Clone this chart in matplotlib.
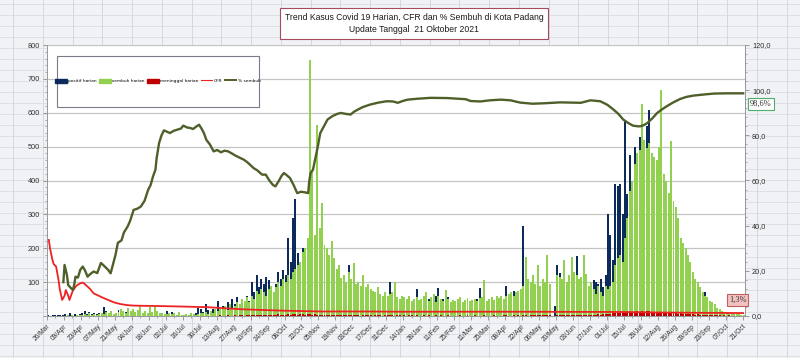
import datetime as dt
import numpy as np
import matplotlib
matplotlib.use("Agg")
import matplotlib.pyplot as plt
from matplotlib.lines import Line2D
from matplotlib.patches import Rectangle, Patch
from matplotlib.ticker import MultipleLocator

# ---------------- data (2-day bins starting 26 Mar 2020) ----------------
start_date = dt.date(2020, 3, 26)
n_days = 575
bin_days = 2

positif_harian = [
    2, 1, 3, 2, 4, 3, 2,
    5, 3, 8, 4, 6, 3, 5,
    10, 16, 7, 12, 5, 8, 6,
    9, 6, 27, 14, 8, 12, 7,
    10, 18, 22, 8, 12, 6, 10,
    5, 8, 4, 6, 3, 5, 4,
    3, 4, 2, 5, 3, 6, 4,
    16, 8, 12, 5, 4, 6, 3,
    4, 6, 3, 8, 5, 10, 25,
    20, 12, 35, 18, 10, 22, 15,
    45, 20, 30, 15, 40, 25, 50,
    35, 55, 30, 48, 40, 60, 45,
    100, 70, 120, 85, 110, 95, 115,
    105, 80, 70, 95, 130, 110, 136,
    120, 230, 160, 290, 345, 186, 150,
    200, 170, 204, 150, 145, 120, 100,
    80, 90, 70, 60, 85, 75, 65,
    70, 60, 55, 65, 80, 150, 50,
    45, 55, 60, 50, 40, 55, 45,
    55, 40, 45, 35, 50, 60, 45,
    50, 100, 45, 40, 55, 35, 45,
    45, 40, 50, 35, 40, 80, 45,
    40, 45, 35, 50, 40, 55, 60,
    83, 45, 50, 53, 55, 40, 45,
    45, 40, 50, 38, 42, 48, 40,
    40, 45, 50, 83, 45, 42, 40,
    45, 50, 40, 55, 48, 42, 50,
    89, 60, 55, 75, 65, 70, 60,
    267, 86, 70, 80, 90, 75, 85,
    80, 70, 90, 75, 80, 0, 30,
    150, 127, 100, 85, 80, 95, 75,
    80, 178, 90, 93, 85, 60, 75,
    90, 105, 100, 95, 110, 85, 120,
    300, 240, 165, 390, 385, 390, 300,
    580, 360, 476, 343, 500, 380, 527,
    615, 500, 560, 607, 470, 450, 430,
    380, 350, 300, 320, 280, 300, 260,
    250, 200, 180, 150, 130, 120, 100,
    80, 70, 60, 50, 45, 70, 40,
    35, 30, 25, 20, 15, 12, 10,
    8, 6, 7, 5, 4, 5, 3,
    3,
]

sembuh_harian = [
    0, 0, 0, 0, 0, 1, 0,
    1, 2, 0, 3, 1, 2, 4,
    3, 5, 2, 8, 4, 6, 3,
    5, 10, 6, 12, 8, 15, 6,
    8, 12, 20, 14, 10, 25, 15,
    20, 12, 18, 30, 10, 15, 8,
    28, 12, 30, 15, 8, 10, 6,
    6, 10, 5, 8, 4, 12, 3,
    4, 6, 3, 8, 5, 4, 6,
    8, 10, 12, 6, 15, 10, 20,
    15, 25, 20, 30, 18, 35, 25,
    30, 40, 35, 50, 45, 55, 40,
    60, 50, 75, 65, 80, 70, 60,
    80, 90, 70, 85, 100, 90, 110,
    100, 120, 110, 130, 140, 150, 160,
    190, 200, 230, 755, 426, 240, 565,
    260, 334, 210, 200, 180, 220, 170,
    140, 150, 112, 120, 100, 130, 110,
    156, 95, 100, 90, 122, 85, 95,
    80, 75, 70, 85, 65, 60, 70,
    60, 65, 70, 100, 55, 50, 60,
    55, 50, 60, 45, 50, 55, 48,
    50, 60, 70, 45, 55, 65, 40,
    60, 50, 45, 77, 50, 40, 48,
    45, 50, 55, 40, 48, 52, 45,
    48, 50, 45, 52, 55, 106, 45,
    50, 55, 48, 60, 52, 58, 50,
    60, 65, 70, 60, 70, 75, 80,
    90, 175, 110, 100, 120, 95, 150,
    90, 110, 100, 180, 95, 0, 0,
    120, 115, 110, 165, 100, 120, 175,
    130, 120, 110, 115, 180, 125, 90,
    100, 80, 65, 90, 70, 60, 90,
    80, 90, 100, 150, 170, 180, 160,
    230, 290, 370, 400, 450, 480, 490,
    625, 520, 497, 510, 480, 470, 460,
    500, 667, 420, 400, 363, 516, 340,
    322, 290, 230, 216, 200, 180, 160,
    130, 110, 100, 85, 70, 60, 55,
    45, 40, 35, 25, 20, 15, 12,
    10, 8, 9, 7, 6, 5, 4,
    3,
]

meninggal_harian = [
    1, 0, 1, 0, 1, 0, 0,
    1, 0, 0, 1, 0, 0, 1,
    0, 1, 0, 0, 1, 0, 0,
    0, 0, 1, 0, 0, 0, 1,
    0, 1, 0, 0, 0, 1, 0,
    0, 0, 0, 1, 0, 0, 0,
    0, 0, 1, 0, 0, 0, 0,
    0, 1, 0, 0, 0, 0, 1,
    0, 0, 0, 1, 0, 0, 0,
    1, 0, 1, 0, 0, 1, 0,
    1, 2, 1, 0, 2, 1, 1,
    2, 1, 2, 3, 1, 2, 2,
    3, 2, 4, 3, 2, 3, 4,
    3, 4, 2, 3, 5, 3, 4,
    4, 5, 3, 6, 5, 4, 5,
    5, 4, 6, 5, 4, 5, 3,
    3, 4, 2, 3, 4, 3, 2,
    3, 2, 3, 4, 2, 3, 2,
    2, 3, 2, 1, 2, 3, 2,
    2, 1, 2, 3, 2, 1, 2,
    2, 3, 2, 1, 2, 2, 1,
    2, 1, 2, 2, 1, 2, 1,
    1, 2, 1, 2, 1, 1, 2,
    1, 2, 1, 1, 2, 1, 1,
    1, 1, 2, 1, 1, 2, 1,
    1, 2, 1, 1, 1, 2, 1,
    1, 1, 2, 1, 1, 1, 2,
    2, 1, 1, 2, 1, 2, 1,
    2, 2, 1, 2, 3, 2, 2,
    2, 3, 2, 2, 3, 0, 1,
    3, 2, 3, 2, 3, 2, 3,
    3, 4, 3, 2, 3, 4, 3,
    4, 3, 4, 5, 4, 5, 6,
    6, 7, 8, 9, 8, 10, 9,
    10, 12, 11, 13, 12, 14, 13,
    14, 13, 15, 14, 12, 13, 12,
    11, 12, 10, 11, 9, 10, 9,
    8, 7, 8, 6, 7, 6, 5,
    5, 4, 5, 4, 3, 4, 3,
    3, 2, 3, 2, 2, 1, 2,
    1, 2, 1, 1, 1, 0, 1,
    1,
]

# CFR (%) - day offset from 26 Mar 2020
cfr_days = [1, 2, 4, 5, 7, 9, 10, 12, 14, 15,
            17, 18, 21, 24, 27, 29, 31, 33, 35, 38,
            42, 46, 50, 55, 60, 66, 71, 80, 93, 110,
            132, 159, 192, 225, 260, 291, 330, 374, 420, 456,
            480, 497, 520, 539, 560, 574]
cfr_pct = [33.7, 30, 24.8, 23, 21.9, 16, 12, 7.1, 9, 11.5,
           9, 7.1, 11.5, 13.5, 14.5, 14.8, 14, 13, 12, 10,
           9, 8, 7.1, 6, 5.3, 4.8, 4.6, 4.5, 4.4, 4.2,
           3.9, 3.0, 2.4, 2.0, 2.0, 1.9, 1.9, 1.9, 1.85, 1.8,
           1.75, 1.6, 1.5, 1.4, 1.35, 1.3]

# % sembuh - day offset from 26 Mar 2020
sembuh_days = [13, 14, 16, 17, 19, 21, 22, 23, 25, 27,
               29, 31, 33, 35, 38, 41, 44, 47, 50, 52,
               54, 56, 58, 61, 63, 66, 68, 71, 74, 77,
               80, 83, 85, 87, 89, 90, 92, 94, 96, 99,
               101, 104, 107, 110, 112, 115, 118, 120, 123, 125,
               127, 129, 131, 134, 137, 140, 143, 146, 149, 152,
               155, 159, 162, 165, 167, 170, 173, 177, 180, 183,
               186, 188, 191, 193, 195, 197, 200, 203, 206, 209,
               212, 215, 216, 217, 219, 221, 223, 225, 228, 231,
               235, 239, 242, 246, 250, 253, 256, 260, 266, 273,
               280, 285, 289, 293, 297, 305, 316, 330, 345, 349,
               357, 365, 374, 382, 390, 400, 410, 423, 432, 440,
               448, 456, 462, 467, 471, 475, 479, 483, 487, 489,
               492, 495, 499, 503, 507, 511, 516, 522, 527, 533,
               540, 550, 560, 574]
sembuh_pct = [15.0, 22.6, 18, 13.7, 12.5, 11.5, 14, 17.4, 17, 20.5,
              21.9, 20, 17.4, 18.5, 19.7, 19, 23.5, 22, 20.4, 18.9,
              23, 27, 32.4, 33.5, 37, 39.6, 42, 47, 47.5, 48.5,
              51, 55.9, 58, 61.8, 64.8, 70, 76.6, 80, 82.2, 81.5,
              81, 82, 82.5, 83, 84.3, 83.5, 83.2, 82.8, 84, 84.7,
              83, 81, 78, 75.9, 72.9, 73.5, 72.5, 73.2, 72.9, 72,
              71, 70, 69.2, 68, 67, 65.5, 64.5, 62.6, 62.6, 60,
              58, 57.4, 60, 62, 63.3, 62.5, 61.1, 58, 54.4, 55,
              54.8, 54.4, 60, 63.3, 64.8, 70, 75.1, 81, 84, 87,
              88.5, 89.5, 89.9, 89.5, 89.2, 90.5, 91.4, 92.5, 93.6, 94.5,
              95.1, 95, 94.4, 95.2, 95.8, 96.2, 96.6, 96.5, 96, 95.2,
              95, 95.5, 95.8, 95.5, 94.5, 94, 94.2, 94.6, 94.5, 94.4,
              95.5, 95.1, 93.5, 91.4, 89.5, 87, 85.5, 84.3, 84, 84,
              84.5, 85.5, 87.5, 89.9, 91.5, 92.9, 94.5, 96.1, 97, 97.6,
              98, 98.5, 98.6, 98.6]

title_text = "Trend Kasus Covid 19 Harian, CFR dan % Sembuh di Kota Padang\nUpdate Tanggal  21 Oktober 2021"
legend_labels = ["positif harian", "sembuh harian", "meninggal harian", "CFR", "% sembuh"]
last_sembuh_label = "98,6%"
last_cfr_label = "1,3%"
tick_step_days = 14

# ---------------- styling ----------------
C_POS = "#0d2a5c"
C_SEMBUH = "#92d050"
C_MATI = "#c00000"
C_CFR = "#ee2222"
C_PCT = "#4f5f2a"

W, H = 800, 358
fig = plt.figure(figsize=(W / 100, H / 100), dpi=100)
fig.patch.set_facecolor("#f1f2f5")

# spreadsheet-like background cells
for k in range(28):
    x = (13 + 29.76 * k) / W
    fig.add_artist(Line2D([x, x], [0, 1], transform=fig.transFigure,
                          color="#cfd3da", lw=0.6, zorder=0))
for k in range(34):
    y = 1 - (4 + 11.0 * k) / H
    fig.add_artist(Line2D([0, 1], [y, y], transform=fig.transFigure,
                          color="#d6d9df", lw=0.5, zorder=0))

ax = fig.add_axes([47 / W, 42 / H, 698 / W, 271 / H])
ax.set_facecolor("white")

x_bins = np.arange(len(positif_harian)) * bin_days + bin_days / 2
bar_w = bin_days * 0.82
ax.bar(x_bins, positif_harian, width=bar_w, color=C_POS, linewidth=0, zorder=2)
ax.bar(x_bins, sembuh_harian, width=bar_w, color=C_SEMBUH, linewidth=0, zorder=3)
ax.bar(x_bins, meninggal_harian, width=bar_w, color=C_MATI, linewidth=0, zorder=4)

ax.set_xlim(0, n_days + 1)
ax.set_ylim(0, 800)
ax.yaxis.set_major_locator(MultipleLocator(100))
ax.yaxis.set_minor_locator(MultipleLocator(20))
yt = list(range(0, 801, 100))
ax.set_yticks(yt)
ax.set_yticklabels([""] + [str(v) for v in yt[1:]])
ax.yaxis.grid(True, color="#c4c4c4", lw=0.9, zorder=0)
ax.set_axisbelow(True)

tick_days = list(range(0, n_days, tick_step_days))
tick_labels = [(start_date + dt.timedelta(days=d)).strftime("%d/%b") for d in tick_days]
ax.set_xticks(tick_days)
ax.set_xticklabels(tick_labels, rotation=45, ha="right", rotation_mode="anchor",
                   fontsize=4.8, color="#333333", family="Liberation Sans")
ax.xaxis.set_minor_locator(MultipleLocator(7))
ax.tick_params(axis="x", which="major", length=3, width=0.6, color="#8c8c8c", pad=2)
ax.tick_params(axis="x", which="minor", length=1.5, width=0.5, color="#8c8c8c")
ax.tick_params(axis="y", which="major", length=3, width=0.6, color="#8c8c8c",
               labelsize=5.3, labelcolor="#333333", pad=2)
ax.tick_params(axis="y", which="minor", length=1.5, width=0.5, color="#8c8c8c")
for lab in ax.get_yticklabels():
    lab.set_family("Liberation Sans")
for s in ["left", "bottom", "right"]:
    ax.spines[s].set_color("#9a9a9a")
    ax.spines[s].set_linewidth(0.7)
ax.spines["top"].set_visible(False)

ax2 = ax.twinx()
ax2.set_ylim(0, 120)
rt = list(range(0, 121, 20))
ax2.set_yticks(rt)
ax2.set_yticklabels([f"{v:.1f}".replace(".", ",") for v in rt])
ax2.yaxis.set_minor_locator(MultipleLocator(4))
ax2.tick_params(axis="y", which="major", length=3, width=0.6, color="#8c8c8c",
                labelsize=5.3, labelcolor="#333333", pad=2)
ax2.tick_params(axis="y", which="minor", length=1.5, width=0.5, color="#8c8c8c")
for lab in ax2.get_yticklabels():
    lab.set_family("Liberation Sans")
for s in ["left", "bottom", "right"]:
    ax2.spines[s].set_color("#9a9a9a")
    ax2.spines[s].set_linewidth(0.7)
ax2.spines["top"].set_visible(False)

ax2.plot(np.array(cfr_days) + 0.5, cfr_pct, color=C_CFR, lw=1.3, zorder=5,
         solid_joinstyle="round")
ax2.plot(np.array(sembuh_days) + 0.5, sembuh_pct, color=C_PCT, lw=1.7, zorder=6,
         solid_joinstyle="round")

# title box
fig.text(414 / W, 1 - 23.5 / H, title_text, ha="center", va="center",
         fontsize=6.2, linespacing=1.55, color="#1a1a1a",
         family=["Liberation Sans Narrow", "Liberation Sans"],
         bbox=dict(boxstyle="square,pad=0.55", fc="white", ec="#a64b5c", lw=0.8),
         zorder=6)

# legend box
fig.add_artist(Rectangle((57 / W, 1 - 107 / H), 202 / W, 51 / H, transform=fig.transFigure,
                         fc="white", ec="#7a7a8c", lw=0.8, zorder=4.9))
handles = [Patch(color=C_POS), Patch(color=C_SEMBUH), Patch(color=C_MATI),
           Line2D([], [], color=C_CFR, lw=0.8), Line2D([], [], color=C_PCT, lw=1.4)]
fig.legend(handles, legend_labels, loc="center", bbox_to_anchor=(158 / W, 1 - 81 / H),
           ncol=5, fontsize=3.2, frameon=False, handlelength=2.6, handleheight=0.9,
           handletextpad=0.35, columnspacing=0.5, borderpad=0.2)

# end labels
fig.text(761 / W, 1 - 104 / H, last_sembuh_label, ha="center", va="center", fontsize=6,
         family="Liberation Serif", color="#333333",
         bbox=dict(boxstyle="square,pad=0.25", fc="white", ec="#4caf6a", lw=0.8), zorder=7)
fig.text(737.5 / W, 1 - 300 / H, last_cfr_label, ha="center", va="center", fontsize=6,
         family="Liberation Serif", color="#333333",
         bbox=dict(boxstyle="square,pad=0.25", fc="#f2c2bf", ec="#c06060", lw=0.8), zorder=7)

fig.savefig("out.png", dpi=100, facecolor=fig.get_facecolor())
